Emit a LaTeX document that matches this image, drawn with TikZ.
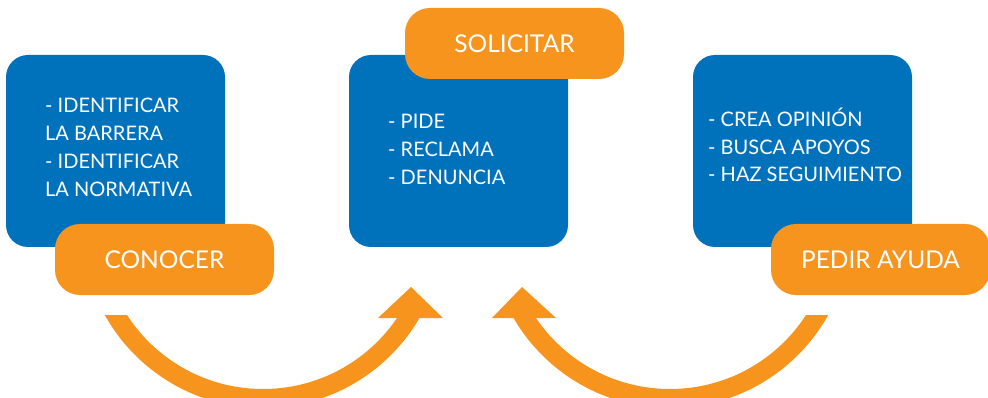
\documentclass[tikz,border=0pt]{standalone}
\usepackage{fontspec}
\setmainfont{Lato}
\definecolor{cblue}{RGB}{0,113,187}
\definecolor{corange}{RGB}{247,148,30}
\begin{document}
\begin{tikzpicture}[x=1pt,y=-1pt,
 bluebox/.style={fill=cblue, rounded corners=22pt, minimum width=219pt, minimum height=192pt, inner sep=0pt},
 pill/.style={fill=corange, rounded corners=25pt, minimum width=219pt, minimum height=71pt, inner sep=0pt, text=white, font=\fontsize{24.5}{28}\selectfont},
 item/.style={anchor=base west, inner sep=0pt, text=white, font=\fontsize{20}{28}\selectfont},
 bandfill/.style={fill=corange, even odd rule},
 headfill/.style={fill=corange}]
\useasboundingbox (0,0) rectangle (988,398);
% blue boxes
\node[bluebox] (b1) at (115.5,151) {};
\node[bluebox] (b2) at (458.5,151) {};
\node[bluebox] (b3) at (802.5,151) {};
% orange labels
\node[pill] (p1) at (164.5,259.5) {CONOCER};
\node[pill] (p2) at (514.5,43.5) {SOLICITAR};
\node[pill] (p3) at (880.5,259.5) {PEDIR AYUDA};
% box texts
\node[item] (t11) at (45,113) {- IDENTIFICAR};
\node[item] (t12) at (45,141) {LA BARRERA};
\node[item] (t13) at (45,169) {- IDENTIFICAR};
\node[item] (t14) at (45,197) {LA NORMATIVA};
\node[item] (t21) at (388,129) {- PIDE};
\node[item] (t22) at (388,157) {- RECLAMA};
\node[item] (t23) at (388,185) {- DENUNCIA};
\node[item] (t31) at (708,127) {- CREA OPINIÓN};
\node[item] (t32) at (708,155) {- BUSCA APOYOS};
\node[item] (t33) at (708,182) {- HAZ SEGUIMIENTO};
% curved arrows
\coordinate (c1) at (263,227);
\coordinate (c2) at (670,227);
\begin{scope}
\clip (0,315) rectangle (988,398);
\fill[bandfill] (c1) circle[radius=181pt] (c1) circle[radius=162pt];
\fill[bandfill] (c2) circle[radius=181pt] (c2) circle[radius=162pt];
\end{scope}
\coordinate (h1) at (411,287);
\coordinate (h2) at (522,287);
\fill[headfill] (378,318) -- (h1) -- (443,318) -- cycle;
\fill[headfill] (492,318) -- (h2) -- (556,318) -- cycle;
\end{tikzpicture}
\end{document}
